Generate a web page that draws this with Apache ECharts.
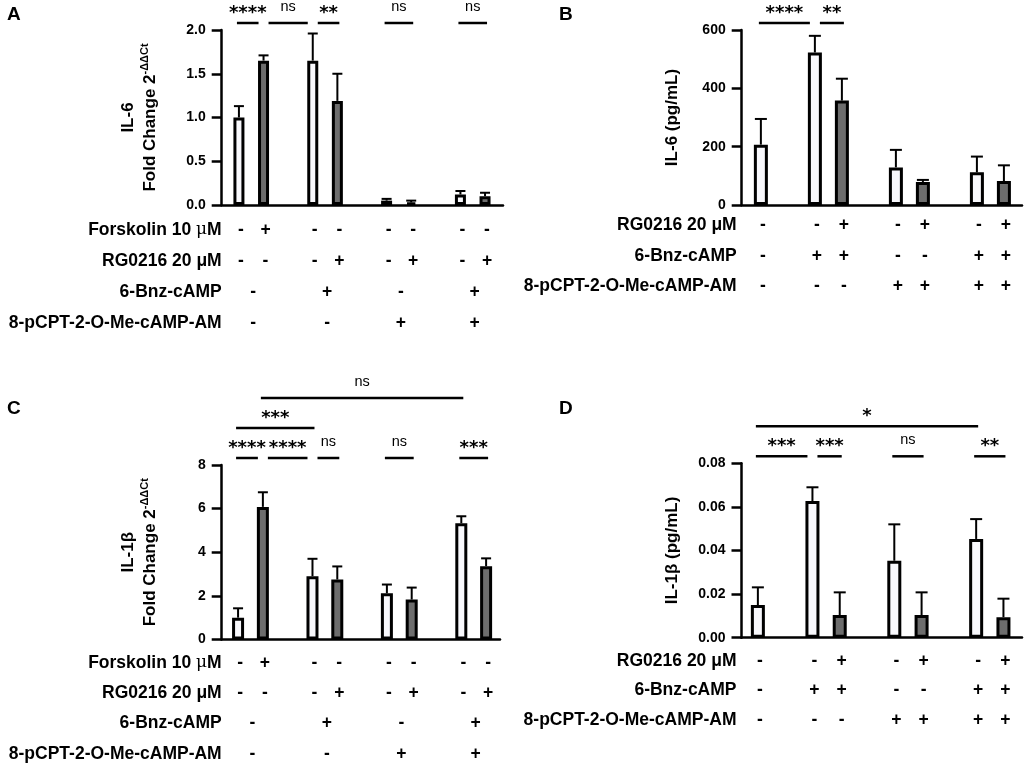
<!DOCTYPE html>
<html><head><meta charset="utf-8">
<script src="https://cdn.jsdelivr.net/npm/echarts@6/dist/echarts.min.js"></script>
<style>html,body{margin:0;padding:0;background:#fff}#c{width:1024px;height:767px}</style>
</head><body><div id="c"></div>
<script>
// ---------------- Panel A: IL-6 mRNA fold change ----------------
const A_groupSizes = [2, 2, 2, 2];
const A_values = [1.00, 1.65, 1.65, 1.19, 0.05, 0.03, 0.12, 0.10];
const A_errors = [0.13, 0.06, 0.31, 0.31, 0.02, 0.02, 0.04, 0.04];
const A_filled = [false, true, false, true, false, true, false, true];
const A_yTicks = [0, 0.5, 1.0, 1.5, 2.0];
const A_rowLabels = ['Forskolin 10 {mu|μ}M', 'RG0216 20 μM', '6-Bnz-cAMP', '8-pCPT-2-O-Me-cAMP-AM'];
const A_forskolin = ['-', '+', '-', '-', '-', '-', '-', '-'];
const A_rg0216 = ['-', '-', '-', '+', '-', '+', '-', '+'];
const A_bnz = ['-', '+', '-', '+'];   // one per group
const A_pcpt = ['-', '-', '+', '+'];  // one per group
const A_sig = [[0, 1, '****', 0], [1, 2, 'ns', 0], [2, 3, '**', 0], [4, 5, 'ns', 0], [6, 7, 'ns', 0]];

// ---------------- Panel B: IL-6 protein (pg/mL) ----------------
const B_groupSizes = [1, 2, 2, 2];
const B_values = [207, 523, 358, 129, 79, 112, 82];
const B_errors = [88, 57, 75, 60, 7, 54, 54];
const B_filled = [false, false, true, false, true, false, true];
const B_yTicks = [0, 200, 400, 600];
const B_rowLabels = ['RG0216 20 μM', '6-Bnz-cAMP', '8-pCPT-2-O-Me-cAMP-AM'];
const B_rg0216 = ['-', '-', '+', '-', '+', '-', '+'];
const B_bnz = ['-', '+', '+', '-', '-', '+', '+'];
const B_pcpt = ['-', '-', '-', '+', '+', '+', '+'];
const B_sig = [[0, 1, '****', 0], [1, 2, '**', 0]];

// ---------------- Panel C: IL-1β mRNA fold change ----------------
const C_groupSizes = [2, 2, 2, 2];
const C_values = [1.00, 6.08, 2.90, 2.75, 2.12, 1.83, 5.33, 3.36];
const C_errors = [0.43, 0.67, 0.80, 0.60, 0.40, 0.55, 0.32, 0.36];
const C_filled = [false, true, false, true, false, true, false, true];
const C_yTicks = [0, 2, 4, 6, 8];
const C_rowLabels = ['Forskolin 10 {mu|μ}M', 'RG0216 20 μM', '6-Bnz-cAMP', '8-pCPT-2-O-Me-cAMP-AM'];
const C_forskolin = ['-', '+', '-', '-', '-', '-', '-', '-'];
const C_rg0216 = ['-', '-', '-', '+', '-', '+', '-', '+'];
const C_bnz = ['-', '+', '-', '+'];
const C_pcpt = ['-', '-', '+', '+'];
const C_sig = [[0, 1, '****', 0], [1, 2, '****', 0], [2, 3, 'ns', 0], [4, 5, 'ns', 0], [6, 7, '***', 0],
               [0, 2, '***', 1], [1, 6, 'ns', 2]];

// ---------------- Panel D: IL-1β protein (pg/mL) ----------------
const D_groupSizes = [1, 2, 2, 2];
const D_values = [0.0150, 0.0627, 0.0104, 0.0353, 0.0104, 0.0453, 0.0094];
const D_errors = [0.0081, 0.0063, 0.0104, 0.0167, 0.0104, 0.0091, 0.0085];
const D_filled = [false, false, true, false, true, false, true];
const D_yTicks = [0, 0.02, 0.04, 0.06, 0.08];
const D_rowLabels = ['RG0216 20 μM', '6-Bnz-cAMP', '8-pCPT-2-O-Me-cAMP-AM'];
const D_rg0216 = ['-', '-', '+', '-', '+', '-', '+'];
const D_bnz = ['-', '+', '+', '-', '-', '+', '+'];
const D_pcpt = ['-', '-', '-', '+', '+', '+', '+'];
const D_sig = [[0, 1, '***', 0], [1, 2, '***', 0], [3, 4, 'ns', 0], [5, 6, '**', 0], [0, 5, '*', 1]];

// ---------------- layout / style (not data) ----------------
const FONT = "'Liberation Sans', Arial, Helvetica, sans-serif";
const STAR_FONT = "'DejaVu Sans', sans-serif";
const GREY = '#6d6d6d';
const WHITE = '#f8f8fc';

function slotsFor(groupSizes) {
  const s = []; let pos = 0;
  groupSizes.forEach(n => { for (let k = 0; k < n; k++) { s.push(pos); pos++; } pos++; });
  return s;
}
function groupCentersFor(groupSizes, slots) {
  const c = []; let i = 0;
  groupSizes.forEach(n => { c.push((slots[i] + slots[i + n - 1]) / 2); i += n; });
  return c;
}

const panels = [
  { letter: 'A', letterPos: [7, 5], grid: { left: 221.7, top: 30, width: 281.3, height: 175 },
    xMin: -0.70, xMax: 10.73, barWidth: 11, cap: 5, decimals: 1,
    groupSizes: A_groupSizes, values: A_values, errors: A_errors, filled: A_filled, ticks: A_yTicks,
    rows: [[A_rowLabels[0], A_forskolin, false], [A_rowLabels[1], A_rg0216, false],
           [A_rowLabels[2], A_bnz, true], [A_rowLabels[3], A_pcpt, true]],
    rowStart: 25, rowGap: 31, labelDx: 0, sig: A_sig,
    yName: '{t|IL-6}\n{t|Fold Change 2}{s|-ΔΔCt}', nameGap: 60 },
  { letter: 'B', letterPos: [559, 5], grid: { left: 741.7, top: 30, width: 280.3, height: 175 },
    xMin: -0.71, xMax: 9.67, barWidth: 14, cap: 6, decimals: 0,
    groupSizes: B_groupSizes, values: B_values, errors: B_errors, filled: B_filled, ticks: B_yTicks,
    rows: [[B_rowLabels[0], B_rg0216, false], [B_rowLabels[1], B_bnz, false], [B_rowLabels[2], B_pcpt, false]],
    rowStart: 20, rowGap: 30.7, labelDx: -5, sig: B_sig,
    yName: '{t|IL-6 (pg/mL)}', nameGap: 58 },
  { letter: 'C', letterPos: [7, 399], grid: { left: 221.7, top: 465, width: 278.3, height: 174.5 },
    xMin: -0.66, xMax: 10.56, barWidth: 12, cap: 5, decimals: 0,
    groupSizes: C_groupSizes, values: C_values, errors: C_errors, filled: C_filled, ticks: C_yTicks,
    rows: [[C_rowLabels[0], C_forskolin, false], [C_rowLabels[1], C_rg0216, false],
           [C_rowLabels[2], C_bnz, true], [C_rowLabels[3], C_pcpt, true]],
    rowStart: 23.5, rowGap: 30.3, labelDx: 0, sig: C_sig,
    yName: '{t|IL-1β}\n{t|Fold Change 2}{s|-ΔΔCt}', nameGap: 60 },
  { letter: 'D', letterPos: [559, 399], grid: { left: 741.5, top: 463.3, width: 280.5, height: 174.4 },
    xMin: -0.60, xMax: 9.68, barWidth: 14, cap: 6, decimals: 2,
    groupSizes: D_groupSizes, values: D_values, errors: D_errors, filled: D_filled, ticks: D_yTicks,
    rows: [[D_rowLabels[0], D_rg0216, false], [D_rowLabels[1], D_bnz, false], [D_rowLabels[2], D_pcpt, false]],
    rowStart: 23, rowGap: 29.6, labelDx: -5, sig: D_sig,
    yName: '{t|IL-1β (pg/mL)}', nameGap: 58 }
];

const grids = [], xAxes = [], yAxes = [], series = [], titles = [];

panels.forEach((p, pi) => {
  const slots = slotsFor(p.groupSizes);
  const gCenters = groupCentersFor(p.groupSizes, slots);
  const yMin = p.ticks[0], yMax = p.ticks[p.ticks.length - 1], yStep = p.ticks[1] - p.ticks[0];

  grids.push(Object.assign({ containLabel: false }, p.grid));
  titles.push({ text: p.letter, left: p.letterPos[0], top: p.letterPos[1], padding: 0,
    textStyle: { fontSize: 19, fontWeight: 'bold', fontFamily: FONT, color: '#000' } });

  xAxes.push({ type: 'value', gridIndex: pi, min: p.xMin, max: p.xMax,
    axisLine: { show: true, onZero: false, lineStyle: { color: '#000', width: 2.5 } },
    axisTick: { show: false }, axisLabel: { show: false }, splitLine: { show: false } });

  yAxes.push({ type: 'value', gridIndex: pi, min: yMin, max: yMax, interval: yStep,
    axisLine: { show: true, onZero: false, lineStyle: { color: '#000', width: 2.5 } },
    axisTick: { show: true, length: 10, lineStyle: { color: '#000', width: 2.5 } },
    axisLabel: { margin: 16, color: '#000', fontSize: 14, fontWeight: 'bold', fontFamily: FONT,
      formatter: v => v.toFixed(p.decimals) },
    splitLine: { show: false },
    name: p.yName, nameLocation: 'middle', nameRotate: 90, nameGap: p.nameGap, nameMoveOverlap: false,
    nameTextStyle: { rich: {
      t: { fontSize: 17, fontWeight: 'bold', fontFamily: FONT, color: '#000', lineHeight: 22 },
      s: { fontSize: 11, fontWeight: 'bold', fontFamily: FONT, color: '#000', lineHeight: 12, verticalAlign: 'top' }
    } } });

  // bars
  series.push({ type: 'bar', xAxisIndex: pi, yAxisIndex: pi, barWidth: p.barWidth, z: 3,
    data: p.values.map((v, i) => ({ value: [slots[i], v],
      itemStyle: { color: p.filled[i] ? GREY : WHITE, borderColor: '#000', borderWidth: 3 } })),
    animation: false, silent: true });

  // error bars (upper only)
  series.push({ type: 'custom', xAxisIndex: pi, yAxisIndex: pi, z: 2, silent: true, animation: false,
    encode: { x: 0, y: 1 },
    data: p.values.map((v, i) => [slots[i], v, p.errors[i]]),
    renderItem: (params, api) => {
      const x = api.value(0), m = api.value(1), e = api.value(2);
      const b = api.coord([x, m]), t = api.coord([x, m + e]);
      const st = { stroke: '#000', lineWidth: 2 };
      return { type: 'group', children: [
        { type: 'line', shape: { x1: b[0], y1: b[1], x2: t[0], y2: t[1] }, style: st },
        { type: 'line', shape: { x1: t[0] - p.cap, y1: t[1], x2: t[0] + p.cap, y2: t[1] }, style: st }
      ] };
    } });

  // significance brackets (ends pulled in where two brackets meet on the same tier)
  const shares = (s, bar) => p.sig.some(o => o !== s && o[3] === s[3] && (o[0] === bar || o[1] === bar));
  series.push({ type: 'custom', xAxisIndex: pi, yAxisIndex: pi, z: 4, silent: true, animation: false,
    clip: false, encode: { x: [0, 1], y: 2 },
    data: p.sig.map(s => [slots[s[0]], slots[s[1]], yMax]),
    renderItem: (params, api) => {
      const s = p.sig[params.dataIndex];
      const a = api.coord([api.value(0), api.value(2)]);
      const b = api.coord([api.value(1), api.value(2)]);
      const x1 = a[0] + (shares(s, s[0]) ? 5 : -2);
      const x2 = b[0] - (shares(s, s[1]) ? 5 : -2);
      const ly = a[1] - 7 - s[3] * 30;
      const isStar = s[2].indexOf('*') >= 0;
      return { type: 'group', children: [
        { type: 'line', shape: { x1: x1, y1: ly, x2: x2, y2: ly },
          style: { stroke: '#000', lineWidth: 2.5 } },
        { type: 'text', x: (x1 + x2) / 2, y: isStar ? ly - 1 : ly - 9,
          style: { text: s[2], align: 'center', verticalAlign: 'bottom', fill: '#000',
            font: isStar ? ('bold 18px ' + STAR_FONT) : ('14.5px ' + FONT) } }
      ] };
    } });

  // treatment table below the axis
  const items = [];
  p.rows.forEach((row, r) => {
    items.push({ x: p.xMin, r: r, text: row[0], label: true });
    row[1].forEach((sg, i) => items.push({ x: row[2] ? gCenters[i] : slots[i], r: r, text: sg, label: false }));
  });
  series.push({ type: 'custom', xAxisIndex: pi, yAxisIndex: pi, z: 4, silent: true, animation: false,
    clip: false, encode: { x: 0, y: 1 },
    data: items.map(it => [it.x, yMin]),
    renderItem: (params, api) => {
      const it = items[params.dataIndex];
      const c = api.coord([api.value(0), api.value(1)]);
      const y = c[1] + p.rowStart + it.r * p.rowGap;
      return { type: 'text', x: it.label ? c[0] + p.labelDx : c[0] + 2, y: y,
        style: { text: it.text, align: it.label ? 'right' : 'center', verticalAlign: 'middle',
          fill: '#000', font: 'bold 17.5px ' + FONT,
          rich: { mu: { fontFamily: "'DejaVu Serif', serif", fontWeight: 'normal', fontSize: 17, fill: '#000' } } } };
    } });
});

const chart = echarts.init(document.getElementById('c'), null, { renderer: 'canvas' });
chart.setOption({
  animation: false,
  backgroundColor: '#ffffff',
  title: titles,
  grid: grids,
  xAxis: xAxes,
  yAxis: yAxes,
  series: series
});
</script>
</body></html>
